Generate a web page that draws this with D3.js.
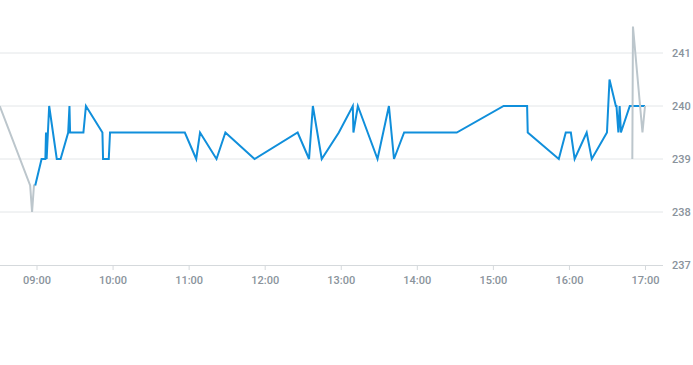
<!DOCTYPE html>
<html>
<head>
<meta charset="utf-8">
<script src="https://cdn.jsdelivr.net/npm/d3@7"></script>
<style>
  body { margin: 0; background: #fff; }
  svg { display: block; }
</style>
</head>
<body>
<script>
// price series, times
const blueTimes = ["08:59","09:04","09:07","09:07:30","09:08","09:10","09:16","09:19","09:25","09:26","09:26:30",
  "09:37","09:39","09:52","09:52:30","09:57","09:58","10:57","11:06","11:09","11:22","11:29","11:52","12:26",
  "12:35","12:38","12:45","12:58:30","13:09:30","13:10","13:13:30","13:29","13:38","13:42","13:50","14:31:30",
  "15:08:30","15:27","15:27:30","15:52","15:57:30","16:01:30","16:04:30","16:14","16:18","16:30","16:32",
  "16:37","16:37:30","16:39","16:40","16:41","16:48","17:00"];
const blueValues = [238.5,239,239,239.5,239,240,239,239,239.5,240,239.5,
  239.5,240,239.5,239,239,239.5,239.5,239,239.5,239,239.5,239,239.5,
  239,240,239,239.5,240,239.5,240,239,240,239,239.5,239.5,
  240,240,239.5,239,239.5,239.5,239,239.5,239,239.5,240.5,
  240,240,239.5,240,239.5,240,240];

const preTimes = ["08:31","08:55","08:56:30","08:58","08:59"];
const preValues = [240,238.5,238,238.5,238.5];

const postTimes = ["16:50","16:50:30","16:58","17:00"];
const postValues = [239,241.5,239.5,240];

const xTickLabels = ["09:00","10:00","11:00","12:00","13:00","14:00","15:00","16:00","17:00"];
const yTicks = [237,238,239,240,241];

const width = 693, height = 365;
const parse = d3.timeParse("%H:%M:%S");
const t = s => parse(s.length === 5 ? s + ":00" : s);
const zip = (ts, vs) => ts.map((s, i) => ({ t: t(s), v: vs[i] }));

const plotRight = 663;
const x = d3.scaleTime()
  .domain([t("09:00"), t("17:00")])
  .range([36.5, 645]);
const y = d3.scaleLinear().domain([237, 241]).range([265, 53]);

const svg = d3.select("body").append("svg")
  .attr("width", width).attr("height", height);

svg.append("clipPath").attr("id", "clip")
  .append("rect").attr("x", 0).attr("y", 0).attr("width", plotRight).attr("height", 265);

// grid
svg.append("g").selectAll("line")
  .data(yTicks.slice(1))
  .join("line")
  .attr("x1", 0).attr("x2", plotRight)
  .attr("y1", d => y(d)).attr("y2", d => y(d))
  .attr("stroke", "#e3e6e8").attr("stroke-width", 1);

// x axis
const xAxis = d3.axisBottom(x)
  .tickValues(xTickLabels.map(t))
  .tickFormat(d3.timeFormat("%H:%M"))
  .tickSize(5).tickPadding(6);
const gx = svg.append("g").attr("transform", "translate(0,265)").call(xAxis);
gx.select(".domain").attr("d", `M0,0.5H${plotRight}`).attr("stroke", "#d5d9dc");
gx.selectAll(".tick line").attr("stroke", "#d5d9dc");
gx.selectAll("text").attr("fill", "#8a939c")
  .style("font", "500 11px Roboto, sans-serif");

// y axis on right
const yAxis = d3.axisRight(y).tickValues(yTicks).tickFormat(d3.format("d"))
  .tickSize(0).tickPadding(9);
const gy = svg.append("g").attr("transform", `translate(${plotRight},0)`).call(yAxis);
gy.select(".domain").remove();
gy.selectAll("text").attr("fill", "#8a939c")
  .style("font", "500 11px Roboto, sans-serif");

const line = d3.line().x(d => x(d.t)).y(d => y(d.v));
const plot = svg.append("g").attr("clip-path", "url(#clip)");

plot.append("path").datum(zip(preTimes, preValues))
  .attr("d", line).attr("fill", "none")
  .attr("stroke", "#bcc6cc").attr("stroke-width", 2);

plot.append("path").datum(zip(blueTimes, blueValues))
  .attr("d", line).attr("fill", "none")
  .attr("stroke", "#108fdb").attr("stroke-width", 2);

plot.append("path").datum(zip(postTimes, postValues))
  .attr("d", line).attr("fill", "none")
  .attr("stroke", "#bcc6cc").attr("stroke-width", 2);
</script>
</body>
</html>
